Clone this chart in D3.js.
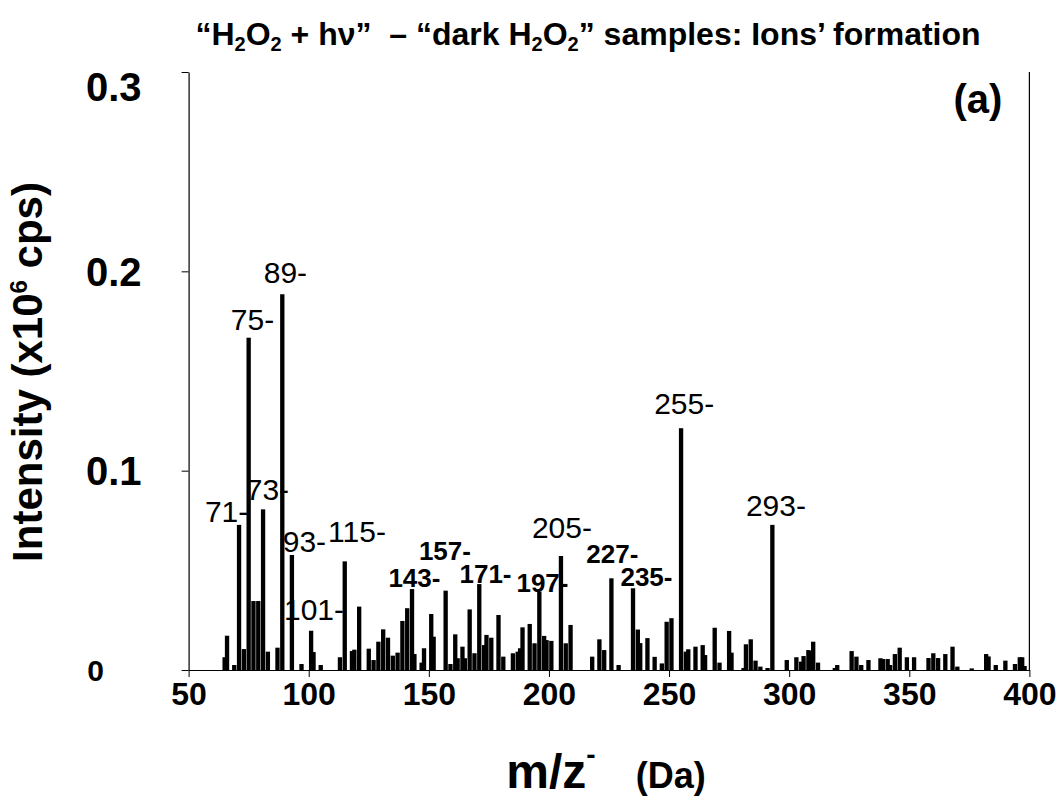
<!DOCTYPE html>
<html>
<head>
<meta charset="utf-8">
<script src="https://cdn.jsdelivr.net/npm/d3@7"></script>
<style>
  body { margin: 0; background: #fff; }
</style>
</head>
<body>
<div id="chart"></div>
<script>
// peak positions (m/z, Da) and intensities (x10^6 cps)
const mz = [65, 66, 69, 71, 73, 75, 77, 79, 81, 83, 87, 89, 93, 97, 101, 102, 105,
  113, 115, 118, 119, 121, 125, 127, 129, 131, 133, 135, 137, 139, 141, 143, 144,
  147, 148, 151, 152, 157, 159, 161, 162, 164, 165, 167, 169, 171, 173, 174, 176,
  179, 181, 185, 187, 188, 189, 192, 194, 196, 198, 199, 201, 205, 207, 209, 218,
  221, 223, 226, 229, 235, 237, 238, 241, 244, 247, 249, 251, 255, 257, 258, 261,
  264, 265, 269, 271, 275, 276, 281, 282, 284, 286, 288, 291, 293, 299, 303, 305,
  306, 308, 309, 310, 312, 319, 320, 326, 328, 330, 333, 338, 339, 341, 342, 344,
  346, 349, 352, 358, 360, 362, 365, 368, 370, 376, 382, 383, 386, 390, 394, 396,
  397, 398];
const intensity = [0.0064, 0.0172, 0.0025, 0.0728, 0.0105, 0.1667, 0.0346, 0.0346,
  0.0806, 0.0092, 0.0112, 0.1885, 0.0577, 0.0030, 0.0197, 0.0090, 0.0025,
  0.0064, 0.0545, 0.0095, 0.0102, 0.0318, 0.0107, 0.0050, 0.0142, 0.0204, 0.0162,
  0.0072, 0.0087, 0.0246, 0.0310, 0.0406, 0.0080,
  0.0037, 0.0109, 0.0281, 0.0167, 0.0398, 0.0030, 0.0179, 0.0059, 0.0117, 0.0059,
  0.0304, 0.0084, 0.0431, 0.0125, 0.0176, 0.0162,
  0.0276, 0.0067, 0.0084, 0.0092, 0.0109, 0.0214, 0.0231, 0.0134, 0.0393, 0.0171,
  0.0150, 0.0146, 0.0572, 0.0134, 0.0226, 0.0067,
  0.0154, 0.0100, 0.0460, 0.0025, 0.0410, 0.0203, 0.0135, 0.0160, 0.0066, 0.0033,
  0.0242, 0.0260, 0.1213, 0.0092, 0.0104, 0.0117,
  0.0125, 0.0075, 0.0212, 0.0037, 0.0196, 0.0087, 0.0010, 0.0129, 0.0154, 0.0047,
  0.0017, 0.0010, 0.0728, 0.0050, 0.0064, 0.0042,
  0.0070, 0.0100, 0.0095, 0.0142, 0.0037, 0.0010, 0.0025, 0.0095, 0.0067, 0.0025,
  0.0050, 0.0059, 0.0055, 0.0055, 0.0025, 0.0080,
  0.0112, 0.0064, 0.0064, 0.0060, 0.0084, 0.0060, 0.0080, 0.0117, 0.0017, 0.0008,
  0.0080, 0.0068, 0.0025, 0.0047, 0.0030, 0.0064,
  0.0064, 0.0020];

const xTicks = [50, 100, 150, 200, 250, 300, 350, 400];
const yTicks = [0, 0.1, 0.2, 0.3];

// peak annotations: text, anchor m/z (text centre), anchor intensity (baseline)
const peakText = ["89-", "75-", "71-", "73-", "93-", "115-", "101-", "255-", "293-", "205-",
  "143-", "157-", "171-", "197-", "227-", "235-"];
const peakTextMz = [90.3, 76.6, 65.8, 82.8, 98.2, 120.1, 102.2, 256.3, 294.5, 205.4,
  144.0, 156.7, 173.6, 197.3, 226.4, 240.6];
const peakTextY = [0.1942, 0.1706, 0.0743, 0.0853, 0.0592, 0.0642, 0.0251, 0.1285, 0.0775, 0.0660,
  0.0416, 0.0552, 0.0437, 0.0391, 0.0537, 0.0421];
const peakTextBold = [false, false, false, false, false, false, false, false, false, false,
  true, true, true, true, true, true];

const width = 1060;
const height = 805;
const margin = { top: 72, right: 30.6, bottom: 135, left: 188.6 };
const font = "Arial, 'Liberation Sans', sans-serif";

const svg = d3.select("#chart").append("svg")
  .attr("width", width)
  .attr("height", height)
  .style("font-family", font);

const x = d3.scaleLinear([50, 400], [margin.left, width - margin.right]);
const y = d3.scaleLinear([0, 0.3], [height - margin.bottom, margin.top]);

const barW = x(51.8) - x(50);

// bars
svg.append("g")
  .selectAll("rect")
  .data(mz.map((m, i) => ({ m, v: intensity[i] })))
  .join("rect")
  .attr("x", d => x(d.m) - barW / 2)
  .attr("y", d => y(d.v))
  .attr("width", barW)
  .attr("height", d => y(0) - y(d.v))
  .attr("fill", "#000");

// x axis
svg.append("g")
  .attr("transform", `translate(0,${y(0)})`)
  .call(d3.axisBottom(x).tickValues(xTicks).tickSize(7).tickSizeOuter(0).tickFormat(d3.format("d")))
  .call(g => g.select(".domain").attr("stroke-width", 1.2))
  .call(g => g.selectAll("text")
    .attr("y", 35).attr("dy", 0)
    .attr("font-family", font)
    .attr("font-size", 32)
    .attr("font-weight", "bold")
    .attr("fill", "#000"));

// y axis
svg.append("g")
  .attr("transform", `translate(${x(50)},0)`)
  .call(d3.axisLeft(y).tickValues(yTicks).tickSize(7).tickSizeOuter(0).tickFormat(d3.format("")))
  .call(g => g.select(".domain").attr("stroke-width", 1.2))
  .call(g => g.selectAll("text")
    .attr("font-family", font)
    .attr("font-size", d => d === 0 ? 30 : 40)
    .attr("font-weight", "bold")
    .attr("fill", "#000")
    .attr("text-anchor", d => d === 0 ? "middle" : "end")
    .attr("x", d => d === 0 ? -93 : -47)
    .attr("dy", d => d === 0.3 ? "0.72em" : "0.35em"));

// right frame line
svg.append("line")
  .attr("x1", x(400)).attr("x2", x(400))
  .attr("y1", y(0.3)).attr("y2", y(0))
  .attr("stroke", "#000")
  .attr("stroke-width", 1.2);

// peak labels
svg.append("g")
  .selectAll("text")
  .data(peakText.map((t, i) => ({ t, m: peakTextMz[i], v: peakTextY[i], b: peakTextBold[i] })))
  .join("text")
  .attr("x", d => x(d.m))
  .attr("y", d => y(d.v))
  .attr("text-anchor", "middle")
  .attr("font-size", d => d.b ? 26 : 30)
  .attr("font-weight", d => d.b ? "bold" : "normal")
  .text(d => d.t);

// panel tag
svg.append("text")
  .attr("x", 978)
  .attr("y", 113)
  .attr("text-anchor", "middle")
  .attr("font-size", 40)
  .attr("font-weight", "bold")
  .text("(a)");

// title
const title = svg.append("text")
  .attr("x", 588)
  .attr("y", 45)
  .attr("text-anchor", "middle")
  .attr("font-size", 32)
  .attr("font-weight", "bold");
title.append("tspan").text("\u201cH");
title.append("tspan").attr("font-size", 20).attr("dy", 6).text("2");
title.append("tspan").attr("dy", -6).text("O");
title.append("tspan").attr("font-size", 20).attr("dy", 6).text("2");
title.append("tspan").attr("dy", -6).text(" + h\u03bd\u201d\u00a0 \u2013 \u201cdark H");
title.append("tspan").attr("font-size", 20).attr("dy", 6).text("2");
title.append("tspan").attr("dy", -6).text("O");
title.append("tspan").attr("font-size", 20).attr("dy", 6).text("2");
title.append("tspan").attr("dy", -6).text("\u201d samples: Ions\u2019 formation");

// y axis title
const yTitle = svg.append("text")
  .attr("transform", "translate(42,372) rotate(-90)")
  .attr("text-anchor", "middle")
  .attr("font-size", 42)
  .attr("font-weight", "bold");
yTitle.append("tspan").text("Intensity (x10");
yTitle.append("tspan").attr("font-size", 24).attr("dy", -15).text("6");
yTitle.append("tspan").attr("dy", 15).text(" cps)");

// x axis title
const xTitle = svg.append("text")
  .attr("x", 606)
  .attr("y", 788)
  .attr("text-anchor", "middle")
  .attr("font-weight", "bold");
xTitle.append("tspan").attr("font-size", 48).text("m/z");
xTitle.append("tspan").attr("font-size", 28).attr("dy", -24).text("-");
xTitle.append("tspan").attr("font-size", 36).attr("dy", 24).text("\u00a0\u00a0\u00a0 (Da)");
</script>
</body>
</html>
